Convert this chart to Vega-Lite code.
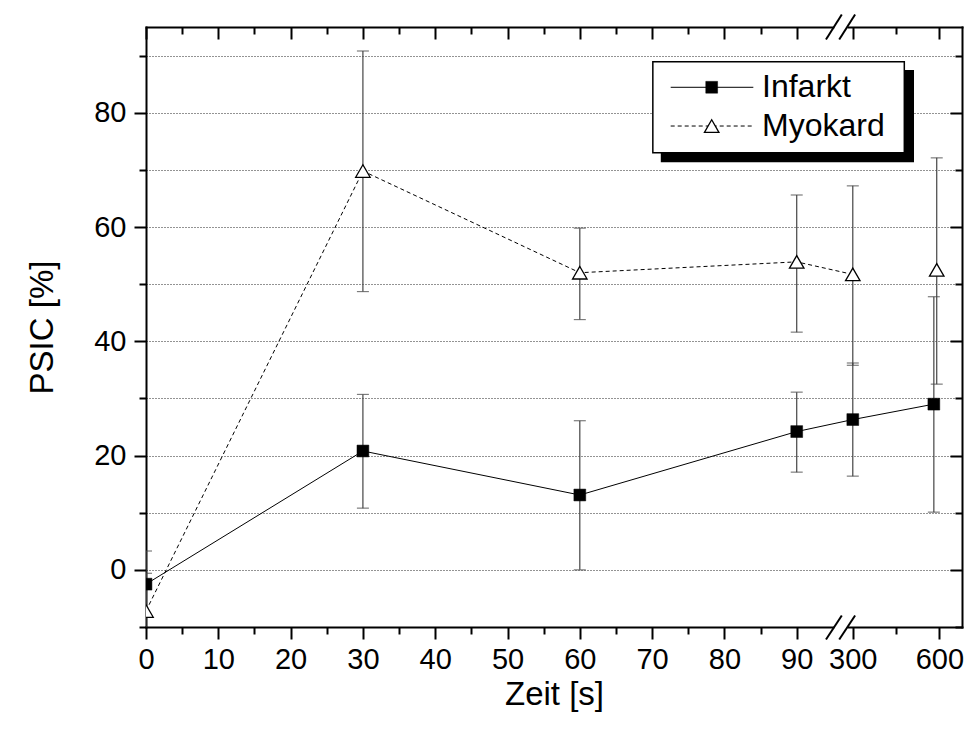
{
  "$schema": "https://vega.github.io/schema/vega-lite/v6.json",
  "width": 816,
  "height": 600,
  "autosize": {"type": "none"},
  "padding": {"left": 146, "top": 27, "right": 6, "bottom": 104},
  "background": "white",
  "config": {
    "view": {"stroke": null},
    "font": "Liberation Sans",
    "text": {"font": "Liberation Sans"},
    "axis": {"tickColor": "black", "tickWidth": 2, "domainColor": "black", "domainWidth": 2, "domainCap": "square", "labelColor": "black", "titleColor": "black"}
  },
  "datasets": {
    "psic": [
      {"Zeit": 0, "Gruppe": "Infarkt", "PSIC": -2.5, "lo": -8.3, "hi": 3.3},
      {"Zeit": 30, "Gruppe": "Infarkt", "PSIC": 20.8, "lo": 10.8, "hi": 30.7},
      {"Zeit": 60, "Gruppe": "Infarkt", "PSIC": 13.1, "lo": 0.0, "hi": 26.1},
      {"Zeit": 90, "Gruppe": "Infarkt", "PSIC": 24.2, "lo": 17.1, "hi": 31.1},
      {"Zeit": 300, "Gruppe": "Infarkt", "PSIC": 26.3, "lo": 16.4, "hi": 36.2},
      {"Zeit": 581, "Gruppe": "Infarkt", "PSIC": 29.0, "lo": 10.1, "hi": 47.8},
      {"Zeit": 0, "Gruppe": "Myokard", "PSIC": -7.2, "lo": -13.9, "hi": -0.6},
      {"Zeit": 30, "Gruppe": "Myokard", "PSIC": 69.8, "lo": 48.7, "hi": 90.8},
      {"Zeit": 60, "Gruppe": "Myokard", "PSIC": 52.0, "lo": 43.8, "hi": 59.8},
      {"Zeit": 90, "Gruppe": "Myokard", "PSIC": 53.9, "lo": 41.6, "hi": 65.6},
      {"Zeit": 300, "Gruppe": "Myokard", "PSIC": 51.7, "lo": 35.8, "hi": 67.2},
      {"Zeit": 591, "Gruppe": "Myokard", "PSIC": 52.5, "lo": 32.5, "hi": 72.1}
    ]
  },
  "resolve": {"axis": {"x": "independent", "y": "independent"}},
  "layer": [
    {
      "data": {"name": "psic"},
      "mark": {"type": "rule", "color": "#444", "strokeWidth": 1.2, "clip": true},
      "encoding": {
        "x": {
          "field": "Zeit", "type": "quantitative",
          "scale": {"domain": [0, 96, 256, 678.6], "range": [0, 694.1, 694.1, 816], "nice": false, "zero": false},
          "axis": {
            "orient": "bottom",
            "values": [0, 10, 20, 30, 40, 50, 60, 70, 80, 90, 300, 600],
            "format": "d",
            "labelFont": "Liberation Sans", "labelFontSize": 29, "labelPadding": 6,
            "labelFlush": false, "labelOverlap": false, "labelBound": false,
            "tickSize": 12,
            "grid": false,
            "title": "Zeit [s]", "titleFont": "Liberation Sans", "titleFontSize": 33, "titleFontWeight": "normal", "titlePadding": 4
          }
        },
        "y": {
          "field": "lo", "type": "quantitative",
          "scale": {"domain": [-10, 95], "nice": false, "zero": false},
          "axis": {
            "orient": "left",
            "values": [0, 20, 40, 60, 80],
            "labelFont": "Liberation Sans", "labelFontSize": 29, "labelPadding": 8,
            "labelFlush": false, "labelOverlap": false, "labelBound": false,
            "tickSize": 12,
            "grid": true, "gridColor": "black", "gridDash": [1, 2], "gridWidth": 1, "gridOpacity": 0.85,
            "title": "PSIC [%]", "titleFont": "Liberation Sans", "titleFontSize": 33, "titleFontWeight": "normal", "titlePadding": 34
          }
        },
        "y2": {"field": "hi"}
      }
    },
    {
      "data": {"name": "psic"},
      "transform": [{"fold": ["lo", "hi"], "as": ["Grenze", "Wert"]}],
      "mark": {"type": "tick", "orient": "horizontal", "size": 12, "thickness": 1.2, "color": "#444", "clip": true},
      "encoding": {
        "x": {
          "field": "Zeit", "type": "quantitative",
          "axis": {
            "orient": "top",
            "values": [0, 10, 20, 30, 40, 50, 60, 70, 80, 90, 300, 600],
            "labels": false, "tickSize": -12, "grid": false, "title": null
          }
        },
        "y": {
          "field": "Wert", "type": "quantitative",
          "axis": {
            "orient": "right",
            "values": [0, 20, 40, 60, 80],
            "labels": false, "tickSize": -12, "grid": false, "title": null
          }
        }
      }
    },
    {
      "data": {"name": "psic"},
      "transform": [{"filter": "datum.Gruppe === 'Infarkt'"}],
      "mark": {"type": "line", "color": "black", "strokeWidth": 1, "clip": true},
      "encoding": {
        "x": {
          "field": "Zeit", "type": "quantitative",
          "axis": {
            "orient": "bottom",
            "values": [5, 15, 25, 35, 45, 55, 65, 75, 85, 450],
            "labels": false, "domain": false, "tickSize": 7, "grid": false, "title": null
          }
        },
        "y": {
          "field": "PSIC", "type": "quantitative",
          "axis": {
            "orient": "left",
            "values": [-10, 10, 30, 50, 70, 90],
            "labels": false, "domain": false, "tickSize": 7, "title": null,
            "grid": true, "gridColor": "black", "gridDash": [1, 2], "gridWidth": 1, "gridOpacity": 0.85
          }
        }
      }
    },
    {
      "data": {"name": "psic"},
      "transform": [{"filter": "datum.Gruppe === 'Myokard' && datum.Zeit <= 300"}],
      "mark": {"type": "line", "color": "black", "strokeWidth": 1, "strokeDash": [4, 3], "clip": true},
      "encoding": {
        "x": {
          "field": "Zeit", "type": "quantitative",
          "axis": {
            "orient": "top",
            "values": [5, 15, 25, 35, 45, 55, 65, 75, 85, 450],
            "labels": false, "domain": false, "tickSize": -7, "grid": false, "title": null
          }
        },
        "y": {
          "field": "PSIC", "type": "quantitative",
          "axis": {
            "orient": "right",
            "values": [-10, 10, 30, 50, 70, 90],
            "labels": false, "domain": false, "tickSize": -7, "grid": false, "title": null
          }
        }
      }
    },
    {
      "data": {"name": "psic"},
      "transform": [{"filter": "datum.Gruppe === 'Infarkt'"}],
      "mark": {"type": "point", "shape": "square", "size": 140, "filled": true, "fill": "black", "stroke": "black", "strokeWidth": 0.5, "opacity": 1, "clip": true},
      "encoding": {
        "x": {"field": "Zeit", "type": "quantitative", "axis": null},
        "y": {"field": "PSIC", "type": "quantitative", "axis": null}
      }
    },
    {
      "data": {"name": "psic"},
      "transform": [{"filter": "datum.Gruppe === 'Myokard'"}],
      "mark": {"type": "point", "shape": "triangle-up", "size": 210, "filled": true, "fill": "white", "stroke": "black", "strokeWidth": 1.3, "opacity": 1, "clip": true},
      "encoding": {
        "x": {"field": "Zeit", "type": "quantitative", "axis": null},
        "y": {"field": "PSIC", "type": "quantitative", "axis": null}
      }
    },
    {
      "data": {"values": [{}]},
      "mark": {"type": "rule", "color": "white", "strokeWidth": 5},
      "encoding": {
        "x": {"datum": 95.2, "type": "quantitative", "axis": null},
        "x2": {"datum": 282},
        "y": {"datum": -10, "type": "quantitative", "axis": null}
      }
    },
    {
      "data": {"values": [{}]},
      "mark": {"type": "rule", "color": "white", "strokeWidth": 5},
      "encoding": {
        "x": {"datum": 95.2, "type": "quantitative", "axis": null},
        "x2": {"datum": 282},
        "y": {"datum": 95, "type": "quantitative", "axis": null}
      }
    },
    {
      "data": {"values": [{"x1": 94.05, "x2": 261.9}, {"x1": 95.88, "x2": 308}]},
      "mark": {"type": "rule", "color": "black", "strokeWidth": 2},
      "encoding": {
        "x": {"field": "x1", "type": "quantitative", "axis": null},
        "x2": {"field": "x2"},
        "y": {"datum": -12.2, "type": "quantitative", "axis": null},
        "y2": {"datum": -8.0}
      }
    },
    {
      "data": {"values": [{"x1": 94.05, "x2": 261.9}, {"x1": 95.88, "x2": 308}]},
      "mark": {"type": "rule", "color": "black", "strokeWidth": 2},
      "encoding": {
        "x": {"field": "x1", "type": "quantitative", "axis": null},
        "x2": {"field": "x2"},
        "y": {"datum": 92.8, "type": "quantitative", "axis": null},
        "y2": {"datum": 97.2}
      }
    },
    {
      "data": {"values": [{}]},
      "mark": {"type": "rect", "color": "black"},
      "encoding": {
        "x": {"datum": 71.2, "type": "quantitative", "axis": null},
        "x2": {"datum": 512.2},
        "y": {"datum": 87.47, "type": "quantitative", "axis": null},
        "y2": {"datum": 71.32}
      }
    },
    {
      "data": {"values": [{}]},
      "mark": {"type": "rect", "fill": "white", "stroke": "black", "strokeWidth": 1.5},
      "encoding": {
        "x": {"datum": 70.1, "type": "quantitative", "axis": null},
        "x2": {"datum": 478.6},
        "y": {"datum": 88.93, "type": "quantitative", "axis": null},
        "y2": {"datum": 73.0}
      }
    },
    {
      "data": {"values": [{}]},
      "mark": {"type": "rule", "color": "black", "strokeWidth": 1},
      "encoding": {
        "x": {"datum": 72.57, "type": "quantitative", "axis": null},
        "x2": {"datum": 84.0},
        "y": {"datum": 84.45, "type": "quantitative", "axis": null}
      }
    },
    {
      "data": {"values": [{}]},
      "mark": {"type": "rule", "color": "black", "strokeWidth": 1, "strokeDash": [4, 3]},
      "encoding": {
        "x": {"datum": 72.57, "type": "quantitative", "axis": null},
        "x2": {"datum": 84.0},
        "y": {"datum": 77.67, "type": "quantitative", "axis": null}
      }
    },
    {
      "data": {"values": [{}]},
      "mark": {"type": "point", "shape": "square", "size": 140, "filled": true, "fill": "black", "stroke": "black", "strokeWidth": 0.5, "opacity": 1},
      "encoding": {
        "x": {"datum": 78.24, "type": "quantitative", "axis": null},
        "y": {"datum": 84.45, "type": "quantitative", "axis": null}
      }
    },
    {
      "data": {"values": [{}]},
      "mark": {"type": "point", "shape": "triangle-up", "size": 210, "filled": true, "fill": "white", "stroke": "black", "strokeWidth": 1.3, "opacity": 1},
      "encoding": {
        "x": {"datum": 78.24, "type": "quantitative", "axis": null},
        "y": {"datum": 77.67, "type": "quantitative", "axis": null}
      }
    },
    {
      "data": {"values": [{"Gruppe": "Infarkt", "pos": 84.45}, {"Gruppe": "Myokard", "pos": 77.67}]},
      "mark": {"type": "text", "align": "left", "baseline": "middle", "fontSize": 32, "color": "black", "font": "Liberation Sans"},
      "encoding": {
        "x": {"datum": 85.2, "type": "quantitative", "axis": null},
        "y": {"field": "pos", "type": "quantitative", "axis": null},
        "text": {"field": "Gruppe"}
      }
    }
  ]
}
